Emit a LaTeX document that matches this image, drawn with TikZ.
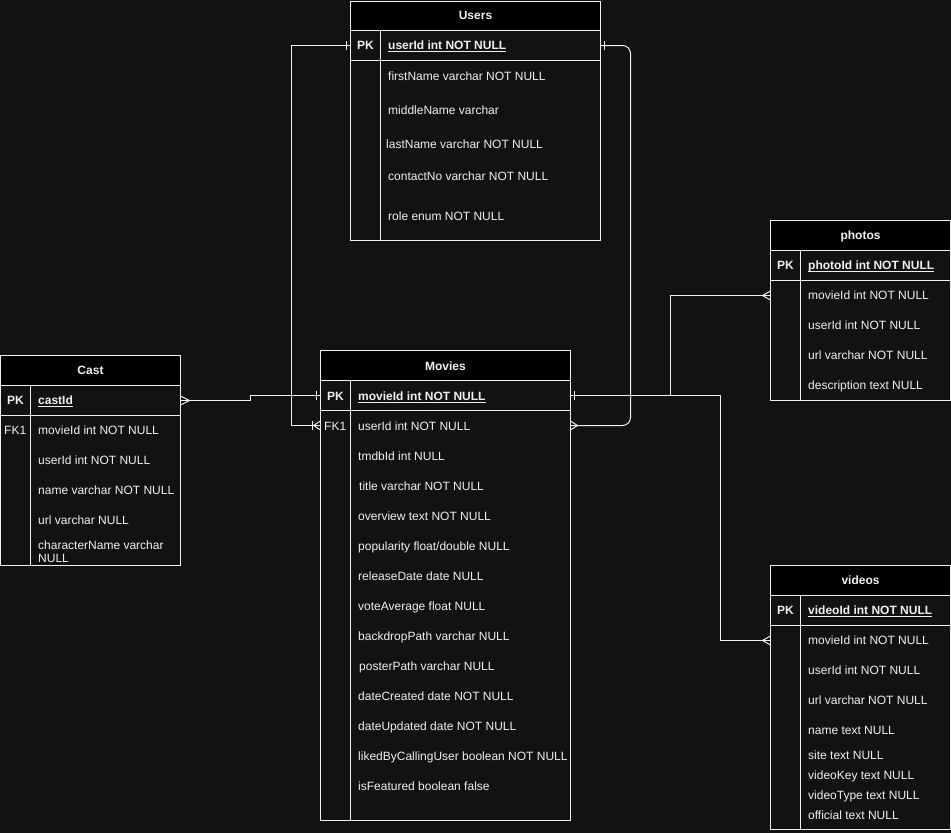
\documentclass[tikz,border=0pt]{standalone}
\usepackage{fontspec}
\setmainfont{Liberation Sans}
\definecolor{bgc}{HTML}{121212}
\definecolor{fgc}{HTML}{F0F0F0}
\newcommand\erfont{\fontsize{12pt}{14pt}\selectfont}
\newcommand\erOne[2]{\draw[conn] ([xshift=#2]#1) ++(0,-4.5) -- ++(0,9);}
\newcommand\erMany[2]{\draw[conn] ([yshift=4.5pt]#1) -- ([xshift=#2]#1) -- ([yshift=-4.5pt]#1);}
\begin{document}
\begin{tikzpicture}[x=1pt,y=-1pt,
  tbody/.style={draw=fgc, line width=1pt, fill=bgc, anchor=north west, inner sep=0pt, outer sep=0pt},
  thead/.style={draw=fgc, line width=1pt, fill=black, anchor=north west, inner sep=0pt, outer sep=0pt, minimum height=30pt},
  rowbox/.style={anchor=north west, inner sep=0pt, outer sep=0pt, minimum height=30pt},
  sep/.style={draw=fgc, line width=1pt},
  conn/.style={draw=fgc, line width=1pt},
  fld/.style={anchor=base west, inner sep=0pt, text=fgc, font=\erfont},
  key/.style={anchor=base, inner sep=0pt, text=fgc, font=\erfont\bfseries},
  fkey/.style={anchor=base west, inner sep=0pt, text=fgc, font=\erfont},
  ttl/.style={anchor=base, inner sep=0pt, text=fgc, font=\erfont\bfseries},
  pkf/.style={anchor=base west, inner sep=0pt, text=fgc, font=\erfont\bfseries},
  ulin/.style={draw=fgc, line width=0.9pt}]
\fill[bgc] (0,0) rectangle (951,833);
\useasboundingbox (0,0) rectangle (951,833);

% ---------------- Users ----------------
\node[tbody, minimum width=250pt, minimum height=239.5pt] (users) at (350.5,1) {};
\node[thead, minimum width=250pt, minimum height=29.5pt] (usersH) at (350.5,1) {};
\node[ttl] (usersT) at (475.5,19.5) {Users};
\node[rowbox, minimum width=250pt] (usersPK) at (350.5,30.5) {};
\draw[sep] (usersPK.south west) -- (usersPK.south east);
\draw[sep] ([xshift=30pt]usersPK.north west) -- ([xshift=30pt]users.south west);
\node[key] (usersPKk) at (365.5,49.5) {PK};
\node[pkf] (usersPKt) at (388,49.5) {userId int NOT NULL};
\node[fld] (users1) at (388,80) {firstName varchar NOT NULL};
\node[fld] (users2) at (388,114.5) {middleName varchar};
\node[fld] (users3) at (386,148) {lastName varchar NOT NULL};
\node[fld] (users4) at (388,180) {contactNo varchar NOT NULL};
\node[fld] (users5) at (388,220) {role enum NOT NULL};

% ---------------- Movies ----------------
\node[tbody, minimum width=250pt, minimum height=470pt] (movies) at (320.5,350.5) {};
\node[thead, minimum width=250pt] (moviesH) at (320.5,350.5) {};
\node[ttl] (moviesT) at (445.5,370) {Movies};
\node[rowbox, minimum width=250pt] (moviesPK) at (320.5,380.5) {};
\node[rowbox, minimum width=250pt] (moviesFK) at (320.5,410.5) {};
\draw[sep] (moviesPK.south west) -- (moviesPK.south east);
\draw[sep] ([xshift=30pt]moviesPK.north west) -- ([xshift=30pt]movies.south west);
\node[key] (moviesPKk) at (335.5,400) {PK};
\node[pkf] (moviesPKt) at (358,400) {movieId int NOT NULL};
\node[fkey] (moviesFKk) at (324,430) {FK1};
\node[fld] (movies1) at (358,430) {userId int NOT NULL};
\node[fld] (movies2) at (358,460) {tmdbId int NULL};
\node[fld] (movies3) at (359,490) {title varchar NOT NULL};
\node[fld] (movies4) at (358,520) {overview text NOT NULL};
\node[fld] (movies5) at (358,550) {popularity float/double NULL};
\node[fld] (movies6) at (358,580) {releaseDate date NULL};
\node[fld] (movies7) at (358,610) {voteAverage float NULL};
\node[fld] (movies8) at (358,640) {backdropPath varchar NULL};
\node[fld] (movies9) at (359,670) {posterPath varchar NULL};
\node[fld] (movies10) at (358,700) {dateCreated date NOT NULL};
\node[fld] (movies11) at (358,730) {dateUpdated date NOT NULL};
\node[fld] (movies12) at (358,760) {likedByCallingUser boolean NOT NULL};
\node[fld] (movies13) at (358,790) {isFeatured boolean false};

% ---------------- Cast ----------------
\node[tbody, minimum width=180pt, minimum height=210pt] (cast) at (0.5,355.5) {};
\node[thead, minimum width=180pt] (castH) at (0.5,355.5) {};
\node[ttl] (castT) at (90.5,374.5) {Cast};
\node[rowbox, minimum width=180pt] (castPK) at (0.5,385.5) {};
\draw[sep] (castPK.south west) -- (castPK.south east);
\draw[sep] ([xshift=30pt]castPK.north west) -- ([xshift=30pt]cast.south west);
\node[key] (castPKk) at (15.5,404) {PK};
\node[pkf] (castPKt) at (38,404) {castId};
\node[fkey] (castFKk) at (4,434) {FK1};
\node[fld] (cast1) at (38,434) {movieId int NOT NULL};
\node[fld] (cast2) at (38,464) {userId int NOT NULL};
\node[fld] (cast3) at (38,494) {name varchar NOT NULL};
\node[fld] (cast4) at (38,524) {url varchar NULL};
\node[fld] (cast5) at (38,549) {characterName varchar};
\node[fld] (cast5b) at (38,562.5) {NULL};

% ---------------- photos ----------------
\node[tbody, minimum width=180pt, minimum height=180pt] (photos) at (770.5,220.5) {};
\node[thead, minimum width=180pt] (photosH) at (770.5,220.5) {};
\node[ttl] (photosT) at (860.5,239.5) {photos};
\node[rowbox, minimum width=180pt] (photosPK) at (770.5,250.5) {};
\node[rowbox, minimum width=180pt] (photosR1) at (770.5,280.5) {};
\draw[sep] (photosPK.south west) -- (photosPK.south east);
\draw[sep] ([xshift=30pt]photosPK.north west) -- ([xshift=30pt]photos.south west);
\node[key] (photosPKk) at (785.5,269.5) {PK};
\node[pkf] (photosPKt) at (808,269.5) {photoId int NOT NULL};
\node[fld] (photos1) at (808,299) {movieId int NOT NULL};
\node[fld] (photos2) at (808,329) {userId int NOT NULL};
\node[fld] (photos3) at (808,359) {url varchar NOT NULL};
\node[fld] (photos4) at (808,389) {description text NULL};

% ---------------- videos ----------------
\node[tbody, minimum width=180pt, minimum height=264pt] (videos) at (770.5,565.5) {};
\node[thead, minimum width=180pt] (videosH) at (770.5,565.5) {};
\node[ttl] (videosT) at (860.5,584) {videos};
\node[rowbox, minimum width=180pt] (videosPK) at (770.5,595.5) {};
\node[rowbox, minimum width=180pt] (videosR1) at (770.5,625.5) {};
\draw[sep] (videosPK.south west) -- (videosPK.south east);
\draw[sep] ([xshift=30pt]videosPK.north west) -- ([xshift=30pt]videos.south west);
\node[key] (videosPKk) at (785.5,614.5) {PK};
\node[pkf] (videosPKt) at (808,614.5) {videoId int NOT NULL};
\node[fld] (videos1) at (808,644) {movieId int NOT NULL};
\node[fld] (videos2) at (808,674) {userId int NOT NULL};
\node[fld] (videos3) at (808,704) {url varchar NOT NULL};
\node[fld] (videos4) at (808,734) {name text NULL};
\node[fld] (videos5) at (808,759) {site text NULL};
\node[fld] (videos6) at (808,779) {videoKey text NULL};
\node[fld] (videos7) at (808,799) {videoType text NULL};
\node[fld] (videos8) at (808,819) {official text NULL};

% underlines of primary keys
\foreach \n in {usersPKt,moviesPKt,castPKt,photosPKt,videosPKt}
  \draw[ulin] ([yshift=-2pt]\n.base west) -- ([yshift=-2pt]\n.base east);

% ---------------- connectors ----------------
% Users -> Movies (left)
\draw[conn] (usersPK.west) -- ++(-59.5,0) |- (moviesFK.west);
\erOne{usersPK.west}{-4pt}
\erMany{moviesFK.west}{-7pt}
\erOne{moviesFK.west}{-8pt}
% Users -> Movies (right, rounded)
\draw[conn, rounded corners=8pt] (usersPK.east) -- ++(30,0) |- (moviesFK.east);
\erOne{usersPK.east}{4pt}
\erMany{moviesFK.east}{7pt}
% Cast -> Movies
\draw[conn] (castPK.east) -- ++(70,0) |- (moviesPK.west);
\erMany{castPK.east}{9pt}
\erOne{moviesPK.west}{-4pt}
% Movies -> photos
\draw[conn] (moviesPK.east) -- ++(99.5,0) |- (photosR1.west);
\erMany{photosR1.west}{-8pt}
% Movies -> videos
\draw[conn] (moviesPK.east) -- ++(149.5,0) |- (videosR1.west);
\erMany{videosR1.west}{-8pt}
\erOne{moviesPK.east}{4pt}
\end{tikzpicture}
\end{document}
